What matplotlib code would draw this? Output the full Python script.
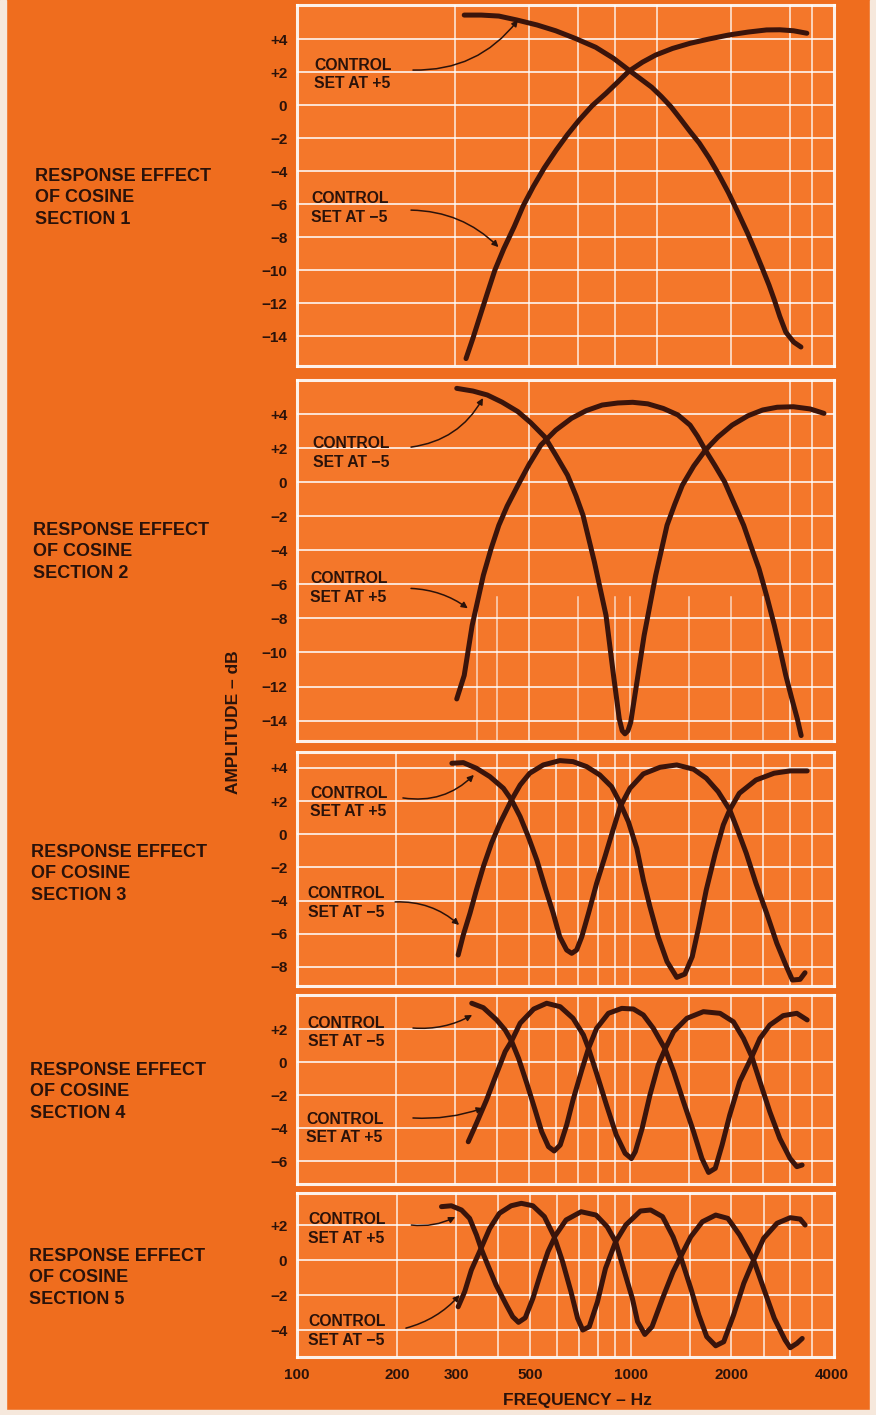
#!/bin/python3

import numpy as np
import matplotlib
matplotlib.use('Agg')
import matplotlib.pyplot as plt
from matplotlib.patches import Rectangle
from matplotlib.ticker import NullLocator

plt.rcParams['font.family'] = ['Liberation Sans', 'DejaVu Sans']

################################################
# values (frequency in Hz, amplitude in dB)
################################################
# section 1
sec1_plus_f = [320, 360, 406, 460, 528, 600, 686, 790, 893, 992, 1070, 1161, 1240, 1325, 1410, 1511,
               1610, 1722, 1840, 1967, 2100, 2243, 2360, 2490, 2600, 2697, 2800, 2918, 3080, 3238]
sec1_plus_db = [5.45, 5.45, 5.39, 5.15, 4.85, 4.5, 4.04, 3.5, 2.83, 2.12, 1.62, 1.08, 0.52, -0.1, -0.8,
                -1.6, -2.3, -3.2, -4.2, -5.3, -6.5, -7.75, -8.8, -9.95, -10.9, -11.8, -12.8, -13.75,
                -14.35, -14.65]
sec1_minus_f = [324, 340, 356, 375, 395, 420, 451, 480, 514, 555, 602, 650, 705, 770, 848, 920, 992,
                1090, 1193, 1340, 1511, 1720, 1967, 2250, 2556, 2800, 3075, 3372]
sec1_minus_db = [-15.35, -14.1, -12.83, -11.4, -10.0, -8.7, -7.37, -6.1, -4.95, -3.8, -2.73, -1.8, -0.91,
                 -0.05, 0.71, 1.4, 2.05, 2.6, 3.03, 3.43, 3.74, 4.0, 4.24, 4.42, 4.55, 4.56, 4.5, 4.35]

# section 2
sec2_minus_f = [304, 340, 375, 415, 463, 505, 556, 600, 651, 690, 724, 783, 848, 893, 929, 948, 966, 986,
                1005, 1045, 1102, 1193, 1290, 1360, 1433, 1550, 1679, 1830, 2018, 2250, 2490, 2750,
                3075, 3450, 3794]
sec2_minus_db = [5.51, 5.35, 5.12, 4.7, 4.14, 3.5, 2.67, 1.6, 0.41, -0.8, -1.94, -4.69, -7.82, -11.35,
                 -13.9, -14.6, -14.78, -14.6, -14.1, -11.94, -9.0, -5.47, -2.53, -1.3, -0.18, 0.95, 1.88,
                 2.65, 3.35, 3.9, 4.24, 4.4, 4.43, 4.3, 4.04]
sec2_plus_f = [304, 320, 338, 365, 385, 406, 430, 463, 500, 542, 600, 669, 740, 826, 920, 1019, 1130,
               1257, 1390, 1511, 1590, 1679, 1790, 1916, 2040, 2184, 2300, 2427, 2560, 2697, 2810, 2918,
               3040, 3158, 3243]
sec2_plus_db = [-12.73, -11.35, -8.41, -5.47, -3.9, -2.53, -1.4, -0.18, 1.05, 2.18, 3.05, 3.75, 4.2, 4.53,
                4.65, 4.69, 4.6, 4.33, 3.95, 3.35, 2.7, 1.88, 1.0, 0.02, -1.2, -2.53, -3.8, -5.08, -6.7,
                -8.41, -9.9, -11.35, -12.7, -13.9, -14.88]

# section 3
sec3_plus_f = [294, 318, 348, 382, 419, 443, 470, 497, 527, 557, 590, 617, 647, 670, 693, 718, 752, 795,
               842, 890, 935, 1000, 1096, 1230, 1379, 1548, 1689, 1833, 1985, 2095, 2224, 2377, 2558,
               2743, 2917, 3053, 3218, 3330]
sec3_plus_db = [4.28, 4.32, 3.98, 3.47, 2.77, 2.07, 1.06, -0.14, -1.55, -3.16, -4.76, -6.18, -6.98, -7.18,
                -6.98, -6.18, -4.76, -2.96, -1.35, 0.26, 1.66, 2.77, 3.64, 4.04, 4.18, 3.92, 3.38, 2.57,
                1.47, 0.26, -1.15, -2.96, -4.76, -6.57, -7.88, -8.79, -8.75, -8.35]
sec3_minus_f = [307, 318, 333, 348, 365, 386, 409, 443, 470, 502, 551, 617, 676, 742, 812, 881, 935, 989,
                1048, 1096, 1147, 1214, 1290, 1379, 1458, 1534, 1605, 1689, 1797, 1899, 1985, 2120,
                2377, 2692, 3004, 3380]
sec3_minus_db = [-7.28, -6.07, -4.76, -3.36, -1.95, -0.54, 0.66, 2.07, 2.97, 3.68, 4.18, 4.44, 4.38, 4.08,
                 3.58, 2.87, 1.87, 0.76, -0.85, -2.76, -4.37, -6.18, -7.68, -8.63, -8.43, -7.38, -5.57,
                 -3.36, -1.15, 0.56, 1.47, 2.47, 3.27, 3.68, 3.82, 3.82]

# section 4
sec4_minus_f = [337, 365, 400, 424, 443, 465, 492, 521, 545, 571, 594, 619, 647, 676, 718, 752, 795, 862,
                945, 1024, 1096, 1174, 1245, 1273, 1350, 1444, 1548, 1639, 1716, 1797, 1883, 1985, 2126,
                2310, 2443, 2614, 2866, 3148, 3380]
sec4_minus_db = [3.56, 3.29, 2.55, 1.94, 1.27, 0.22, -1.29, -2.91, -4.22, -5.13, -5.39, -5.03, -3.82, -2.3,
                 -0.48, 0.83, 2.04, 2.95, 3.25, 3.21, 2.85, 2.04, 1.13, 0.79, -0.59, -2.4, -4.22, -5.84,
                 -6.69, -6.44, -5.03, -3.21, -1.19, 0.32, 1.43, 2.24, 2.81, 2.95, 2.55]
sec4_plus_f = [329, 348, 373, 400, 424, 443, 470, 516, 564, 619, 676, 726, 752, 795, 851, 910, 967, 1010,
               1037, 1087, 1147, 1214, 1273, 1350, 1479, 1656, 1857, 2035, 2181, 2310, 2443, 2614, 2800,
               3004, 3148, 3264]
sec4_plus_db = [-4.83, -3.72, -2.3, -0.69, 0.63, 1.27, 2.35, 3.21, 3.56, 3.35, 2.65, 1.64, 0.83, -0.69,
                -2.61, -4.42, -5.53, -5.85, -5.43, -4.02, -2.0, -0.18, 0.79, 1.84, 2.65, 3.05, 2.95, 2.44,
                1.43, 0.32, -1.19, -3.01, -4.63, -5.84, -6.34, -6.24]

# section 5
sec5_plus_f = [271, 290, 311, 329, 345, 356, 373, 395, 424, 443, 461, 483, 509, 539, 565, 596, 640, 710,
               787, 850, 901, 954, 1011, 1048, 1102, 1158, 1245, 1339, 1411, 1513, 1639, 1797, 1954,
               2120, 2334, 2501, 2692, 2900, 3004, 3148, 3264]
sec5_plus_db = [3.05, 3.1, 2.86, 2.38, 1.43, 0.67, -0.29, -1.43, -2.57, -3.24, -3.56, -3.3, -2.19, -0.67,
                0.48, 1.43, 2.29, 2.76, 2.57, 1.9, 1.05, -0.57, -2.19, -3.52, -4.25, -3.81, -2.19, -0.67,
                0.19, 1.33, 2.19, 2.57, 2.38, 1.43, 0.0, -1.62, -3.33, -4.57, -5.01, -4.76, -4.48]
sec5_minus_f = [304, 318, 333, 356, 378, 404, 438, 470, 509, 551, 590, 625, 662, 693, 718, 751, 795, 840,
                901, 966, 1069, 1147, 1245, 1339, 1411, 1513, 1599, 1689, 1797, 1899, 2033, 2181, 2334,
                2501, 2743, 3004, 3218, 3330]
sec5_minus_db = [-2.67, -1.81, -0.57, 0.67, 1.81, 2.67, 3.1, 3.24, 3.1, 2.48, 1.33, -0.1, -1.81, -3.33,
                 -4.0, -3.81, -2.38, -0.48, 1.05, 2.0, 2.8, 2.86, 2.48, 1.33, 0.19, -1.62, -3.14, -4.38,
                 -4.9, -4.67, -3.14, -1.33, 0.0, 1.24, 2.1, 2.42, 2.34, 2.0]

freq_ticks = [100, 200, 300, 500, 1000, 2000, 4000]
freq_labels = ['100', '200', '300', '500', '1000', '2000', '4000']

################################################
# look
################################################
W, H = 876, 1415
BG = '#ef6d1e'
PANEL = '#f4772a'
INK = '#2a120a'
CURVE = '#3a140b'
XMIN, XMAX = 101.4, 4064

GRID_FULL = [200, 300, 400, 500, 600, 700, 800, 900, 1000, 1500, 2000, 2500, 3000, 3500]


def pixRect(top, bottom, left=297, right=834):
    return [left / W, 1 - bottom / H, (right - left) / W, (bottom - top) / H]


def dbLabel(v):
    if v > 0:
        return '+%d' % v
    if v < 0:
        return '\u2212%d' % abs(v)
    return '0'


################################################
def setupPanel(ax, ylim, yticks, vgrid, vgrid_low=(), low_frac=0.45):
    ax.set_facecolor(PANEL)
    ax.set_xscale('log')
    ax.set_xlim(XMIN, XMAX)
    ax.set_ylim(*ylim)
    ax.set_yticks(yticks)
    ax.set_yticklabels([dbLabel(v) for v in yticks], fontweight='bold')
    ax.tick_params(axis='y', length=0, pad=7, labelsize=11, labelcolor=INK)
    ax.xaxis.set_major_locator(NullLocator())
    ax.xaxis.set_minor_locator(NullLocator())

    #white graph paper lines
    for y in yticks:
        ax.axhline(y, color='white', lw=1.3, alpha=0.85, zorder=1)
    for f in vgrid:
        ax.axvline(f, color='white', lw=1.2, alpha=0.8, zorder=1)
    for f in vgrid_low:
        ax.axvline(f, ymax=low_frac, color='white', lw=1.1, alpha=0.7, zorder=1)
    for s in ax.spines.values():
        s.set_color('white')
        s.set_linewidth(2.2)
        s.set_alpha(0.9)


def addCurves(ax, curves):
    for f, db in curves:
        ax.plot(f, db, color=CURVE, lw=3.6, solid_capstyle='round',
                solid_joinstyle='round', zorder=3)


def addControl(ax, text, xy_text, tail, head, rad):
    ax.text(xy_text[0], xy_text[1], text, fontsize=11.3, fontweight='bold', color=INK,
            va='center', ha='left', linespacing=1.3, zorder=4)
    ax.annotate('', xy=head, xytext=tail,
                arrowprops=dict(arrowstyle='-|>', color=INK, lw=1.1, mutation_scale=9,
                                shrinkA=0, shrinkB=0,
                                connectionstyle='arc3,rad=%s' % rad),
                zorder=4)


################################################
def makePlots():
    fig = plt.figure(figsize=(W / 100, H / 100), dpi=100)
    fig.patch.set_facecolor(BG)

    #paper edges
    fig.add_artist(Rectangle((0, 0), 6 / W, 1, transform=fig.transFigure,
                             color='#f6e8dc', zorder=0))
    fig.add_artist(Rectangle((1 - 6 / W, 0), 6 / W, 1, transform=fig.transFigure,
                             color='#f6e8dc', zorder=0))
    fig.add_artist(Rectangle((0, 0), 1, 5 / H, transform=fig.transFigure,
                             color='#f6e8dc', zorder=0))

    ticks14 = [4, 2, 0, -2, -4, -6, -8, -10, -12, -14]

    # section 1
    ax1 = fig.add_axes(pixRect(5, 366))
    setupPanel(ax1, (-15.8, 6.06), ticks14, [300, 500, 700, 900, 1200, 2000, 3000, 3500])
    addCurves(ax1, [(sec1_plus_f, sec1_plus_db), (sec1_minus_f, sec1_minus_db)])
    addControl(ax1, 'CONTROL\nSET AT +5', (114, 1.85), (225, 2.12), (463, 5.15), 0.25)
    addControl(ax1, 'CONTROL\nSET AT \u22125', (112, -6.24), (222, -6.36), (405, -8.6), -0.2)

    # section 2
    ax2 = fig.add_axes(pixRect(380, 741))
    setupPanel(ax2, (-15.2, 6.0), ticks14, [500, 3000, 3500],
               vgrid_low=[350, 400, 700, 900, 1000, 1500, 2000, 2500], low_frac=0.4)
    addCurves(ax2, [(sec2_minus_f, sec2_minus_db), (sec2_plus_f, sec2_plus_db)])
    addControl(ax2, 'CONTROL\nSET AT \u22125', (113, 1.71), (222, 2.06), (364, 4.94), 0.25)
    addControl(ax2, 'CONTROL\nSET AT +5', (111, -6.21), (222, -6.24), (328, -7.41), -0.15)

    # section 3
    ax3 = fig.add_axes(pixRect(752, 986))
    setupPanel(ax3, (-9.15, 4.96), [4, 2, 0, -2, -4, -6, -8], GRID_FULL)
    addCurves(ax3, [(sec3_plus_f, sec3_plus_db), (sec3_minus_f, sec3_minus_db)])
    addControl(ax3, 'CONTROL\nSET AT +5', (111, 1.92), (210, 2.19), (342, 3.58), 0.25)
    addControl(ax3, 'CONTROL\nSET AT \u22125', (109, -4.14), (199, -4.08), (309, -5.47), -0.2)

    # section 4
    ax4 = fig.add_axes(pixRect(995, 1184))
    setupPanel(ax4, (-7.39, 4.06), [2, 0, -2, -4, -6], GRID_FULL)
    addCurves(ax4, [(sec4_minus_f, sec4_minus_db), (sec4_plus_f, sec4_plus_db)])
    addControl(ax4, 'CONTROL\nSET AT \u22125', (109, 1.79), (225, 2.06), (338, 2.85), 0.15)
    addControl(ax4, 'CONTROL\nSET AT +5', (108, -4.03), (225, -3.39), (364, -2.79), 0.1)

    # section 5
    ax5 = fig.add_axes(pixRect(1193, 1357))
    setupPanel(ax5, (-5.54, 3.83), [2, 0, -2, -4], GRID_FULL)
    addCurves(ax5, [(sec5_plus_f, sec5_plus_db), (sec5_minus_f, sec5_minus_db)])
    addControl(ax5, 'CONTROL\nSET AT +5', (108, 1.77), (220, 2.0), (298, 2.46), 0.15)
    addControl(ax5, 'CONTROL\nSET AT \u22125', (108, -4.06), (212, -3.89), (307, -2.0), 0.15)

    #frequency axis on the last panel
    ax5.set_xticks(freq_ticks)
    ax5.set_xticklabels(freq_labels, fontweight='bold')
    ax5.tick_params(axis='x', length=0, pad=8, labelsize=11, labelcolor=INK)

    #side titles
    sections = [(35, 198), (33, 552), (31, 874), (30, 1092), (29, 1278)]
    for i, (x, y) in enumerate(sections):
        fig.text(x / W, 1 - y / H, 'RESPONSE EFFECT\nOF COSINE\nSECTION %d' % (i + 1),
                 fontsize=13, fontweight='bold', color=INK, ha='left', va='center',
                 linespacing=1.32)

    fig.text(577 / W, 1 - 1401 / H, 'FREQUENCY \u2013 Hz', fontsize=12.5, fontweight='bold',
             color=INK, ha='center', va='center')
    fig.text(233 / W, 1 - 722 / H, 'AMPLITUDE \u2013 dB', fontsize=12.5, fontweight='bold',
             color=INK, ha='center', va='center', rotation=90)

    plt.savefig('out.png', dpi=100, facecolor=fig.get_facecolor())


#############################################
if __name__ == '__main__':
    makePlots()
